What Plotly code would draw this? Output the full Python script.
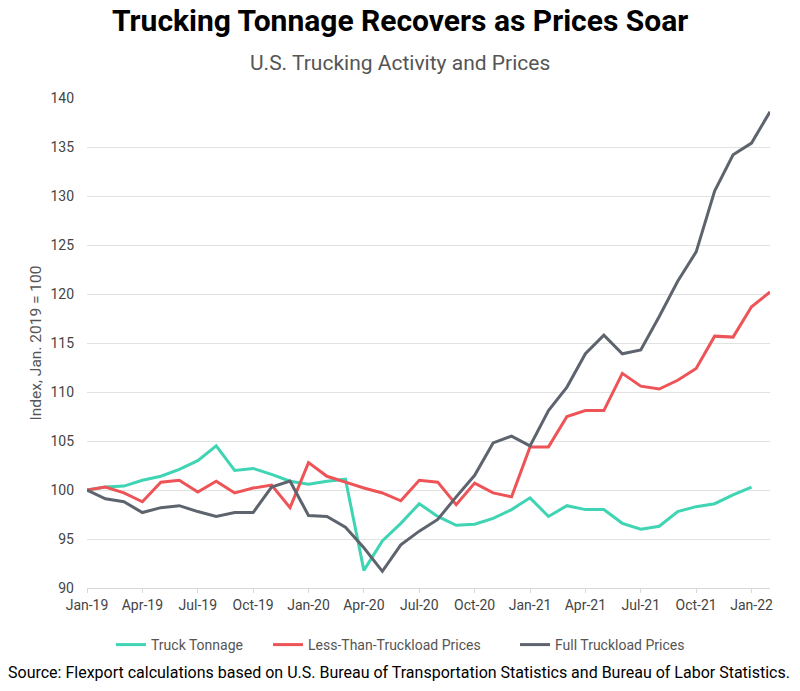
import plotly.graph_objects as go

months = ["Jan-19","Feb-19","Mar-19","Apr-19","May-19","Jun-19","Jul-19","Aug-19","Sep-19","Oct-19","Nov-19","Dec-19",
          "Jan-20","Feb-20","Mar-20","Apr-20","May-20","Jun-20","Jul-20","Aug-20","Sep-20","Oct-20","Nov-20","Dec-20",
          "Jan-21","Feb-21","Mar-21","Apr-21","May-21","Jun-21","Jul-21","Aug-21","Sep-21","Oct-21","Nov-21","Dec-21",
          "Jan-22","Feb-22"]

tick_labels = ["Jan-19","Apr-19","Jul-19","Oct-19","Jan-20","Apr-20","Jul-20","Oct-20","Jan-21","Apr-21","Jul-21","Oct-21","Jan-22"]

truck_tonnage = [100.0, 100.3, 100.4, 101.0, 101.4, 102.1, 103.0, 104.5, 102.0, 102.2, 101.6, 100.9,
                 100.6, 100.9, 101.1, 91.8, 94.8, 96.6, 98.6, 97.3, 96.4, 96.5, 97.1, 98.0,
                 99.2, 97.3, 98.4, 98.0, 98.0, 96.6, 96.0, 96.3, 97.8, 98.3, 98.6, 99.5,
                 100.3]

ltl_prices = [100.0, 100.3, 99.7, 98.8, 100.8, 101.0, 99.8, 100.9, 99.7, 100.2, 100.5, 98.2,
              102.8, 101.4, 100.8, 100.2, 99.7, 98.9, 101.0, 100.8, 98.5, 100.7, 99.7, 99.3,
              104.4, 104.4, 107.5, 108.1, 108.1, 111.9, 110.6, 110.3, 111.2, 112.4, 115.7, 115.6,
              118.7, 120.2]

ftl_prices = [100.0, 99.1, 98.8, 97.7, 98.2, 98.4, 97.8, 97.3, 97.7, 97.7, 100.3, 100.9,
              97.4, 97.3, 96.2, 94.1, 91.7, 94.4, 95.8, 97.0, 99.3, 101.5, 104.8, 105.5,
              104.5, 108.1, 110.5, 113.9, 115.8, 113.9, 114.3, 117.7, 121.3, 124.3, 130.5, 134.2,
              135.4, 138.6]

series_names = ["Truck Tonnage", "Less-Than-Truckload Prices", "Full Truckload Prices"]
series_values = [truck_tonnage, ltl_prices, ftl_prices]
series_colors = ["#3fd4b3", "#ee5457", "#5e646e"]
legend_ids = ["legend", "legend2", "legend3"]
legend_left_px = [111, 268, 515]

W, H = 800, 691
ML, MR, MT, MB = 87, 30, 98, 103
PW, PH = W - ML - MR, H - MT - MB


def px_x(x):
    return (x - ML) / PW


def px_y(y):
    return (H - MB - y) / PH


fig = go.Figure()
for name, vals, color, lg in zip(series_names, series_values, series_colors, legend_ids):
    fig.add_trace(go.Scatter(
        x=list(range(len(vals))), y=vals, name=name, mode="lines",
        line=dict(color=color, width=3), legend=lg))

tick_pos = [months.index(t) for t in tick_labels]

legend_common = dict(orientation="h", yanchor="top", xanchor="left",
                     font=dict(size=14, color="#555"), itemwidth=30, bgcolor="rgba(0,0,0,0)")

fig.update_layout(
    width=W, height=H,
    margin=dict(l=ML, r=MR, t=MT, b=MB),
    paper_bgcolor="white", plot_bgcolor="white",
    font=dict(family="Roboto, sans-serif", color="#444"),
    showlegend=True,
    legend=dict(x=px_x(legend_left_px[0]), y=px_y(629), **legend_common),
    legend2=dict(x=px_x(legend_left_px[1]), y=px_y(629), **legend_common),
    legend3=dict(x=px_x(legend_left_px[2]), y=px_y(629), **legend_common),
    xaxis=dict(range=[0, len(months) - 1], tickvals=tick_pos, ticktext=tick_labels,
               showgrid=False, zeroline=False, showline=True, linecolor="#d8d8d8", linewidth=1,
               ticks="outside", ticklen=4, tickcolor="#d8d8d8",
               tickfont=dict(size=14, color="#444")),
    yaxis=dict(range=[90, 140], dtick=5, tick0=90, showgrid=True, gridcolor="#e2e2e2", gridwidth=1,
               zeroline=False, showline=False, ticks="", ticklabelstandoff=12,
               tickfont=dict(size=14, color="#444"),
               title=dict(text="Index, Jan. 2019 = 100", font=dict(size=15.5, color="#555"), standoff=4)),
    annotations=[
        dict(text="<b>Trucking Tonnage Recovers as Prices Soar</b>", x=px_x(400), y=px_y(21),
             xref="paper", yref="paper",
             showarrow=False, font=dict(size=30, color="#000"), xanchor="center", yanchor="middle"),
        dict(text="U.S. Trucking Activity and Prices", x=px_x(400), y=px_y(63), xref="paper", yref="paper",
             showarrow=False, font=dict(size=21, color="#555"), xanchor="center", yanchor="middle"),
        dict(text="Source: Flexport calculations based on U.S. Bureau of Transportation Statistics and Bureau of Labor Statistics.",
             x=px_x(399), y=px_y(672), xref="paper", yref="paper", showarrow=False,
             font=dict(size=16, color="#000"), xanchor="center", yanchor="middle"),
    ],
)

fig.write_html("out.html")
